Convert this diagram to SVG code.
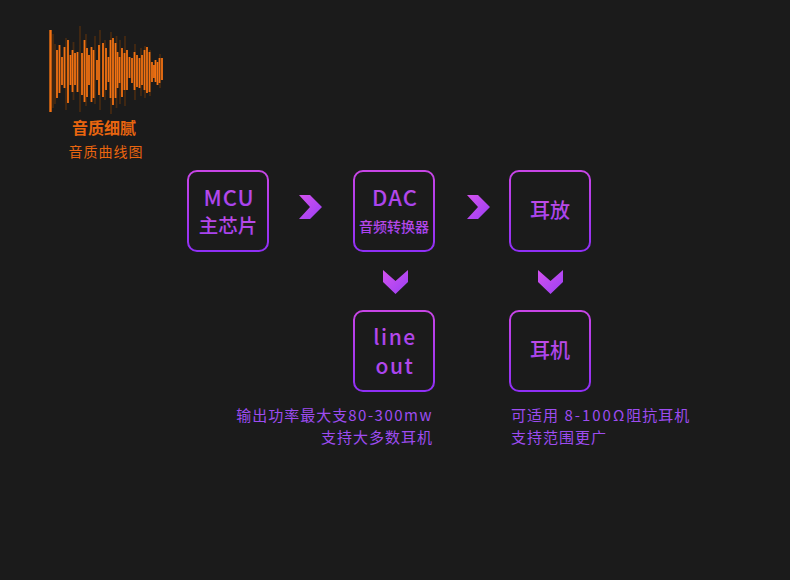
<svg xmlns="http://www.w3.org/2000/svg" width="790" height="580" viewBox="0 0 790 580">
<defs>
<linearGradient id="boxg" x1="0" y1="0" x2="0" y2="1">
<stop offset="0" stop-color="#c845e6"/>
<stop offset="1" stop-color="#8f2ff5"/>
</linearGradient>
<linearGradient id="txtg" x1="0" y1="0" x2="0" y2="1">
<stop offset="0" stop-color="#c54ee6"/>
<stop offset="1" stop-color="#a040f0"/>
</linearGradient>
<linearGradient id="chevg" x1="0" y1="0" x2="1" y2="1">
<stop offset="0" stop-color="#d452ee"/>
<stop offset="1" stop-color="#9a3ff4"/>
</linearGradient>
<path id="chevR" d="M0,0 L11,0 L23,12 L11,24 L0,24 L11,12 Z"/>
<path id="chevD" d="M0,0 L12.5,11 L25,0 L25,12 L12.5,24 L0,12 Z"/>
</defs>
<style>
.box{fill:none;stroke:url(#boxg);stroke-width:2}
.t{font-family:"Noto Sans CJK SC","Noto Sans",sans-serif;fill:url(#txtg);text-anchor:middle;font-weight:500}
.d{font-family:"Noto Sans CJK SC","Noto Sans",sans-serif;fill:#9d4cf0;font-size:15px;letter-spacing:1px}
.o{font-family:"Noto Sans CJK SC","Noto Sans",sans-serif;fill:#e8650f;text-anchor:middle}
.wb{stroke:#f27212;stroke-width:1.8}
.wd{stroke:#452a12;stroke-width:1.8}
</style>
<rect width="790" height="580" fill="#1b1b1b"/>
<g id="waveform">
<g class="wd">
<line x1="53" y1="34" x2="53" y2="108"/><line x1="66" y1="38" x2="66" y2="110"/><line x1="80" y1="26" x2="80" y2="112"/>
<line x1="95" y1="36" x2="95" y2="104"/><line x1="100" y1="30" x2="100" y2="110"/><line x1="111" y1="32" x2="111" y2="114"/>
<line x1="120" y1="40" x2="120" y2="104"/><line x1="125" y1="36" x2="125" y2="106"/><line x1="135" y1="44" x2="135" y2="100"/>
<line x1="145" y1="46" x2="145" y2="98"/><line x1="150" y1="50" x2="150" y2="96"/><line x1="160" y1="54" x2="160" y2="88"/>
<line x1="55" y1="44" x2="55" y2="104"/><line x1="73.5" y1="42" x2="73.5" y2="100"/><line x1="86" y1="34" x2="86" y2="106"/>
<line x1="105" y1="40" x2="105" y2="100"/><line x1="116.5" y1="36" x2="116.5" y2="108"/><line x1="141" y1="48" x2="141" y2="96"/>
</g>
<line x1="50.5" y1="30" x2="50.5" y2="112" stroke="#f27212" stroke-width="2.4"/>
<g class="wb">
<line x1="57" y1="50" x2="57" y2="98"/><line x1="59.5" y1="45" x2="59.5" y2="93"/><line x1="62" y1="57" x2="62" y2="85"/>
<line x1="64.5" y1="47" x2="64.5" y2="88"/><line x1="68" y1="40" x2="68" y2="103"/><line x1="70.5" y1="55" x2="70.5" y2="85"/>
<line x1="72.5" y1="50" x2="72.5" y2="92"/><line x1="75" y1="53" x2="75" y2="85"/><line x1="77.5" y1="52" x2="77.5" y2="92"/>
<line x1="82" y1="53" x2="82" y2="95"/><line x1="84.5" y1="40" x2="84.5" y2="102"/><line x1="87" y1="48" x2="87" y2="97"/>
<line x1="89" y1="55" x2="89" y2="85"/><line x1="91.5" y1="47" x2="91.5" y2="102"/><line x1="93.5" y1="50" x2="93.5" y2="98"/>
<line x1="97" y1="60" x2="97" y2="80"/><line x1="99" y1="45" x2="99" y2="95"/><line x1="103" y1="43" x2="103" y2="97"/>
<line x1="106" y1="48" x2="106" y2="90"/><line x1="108.5" y1="57" x2="108.5" y2="82"/><line x1="110.5" y1="40" x2="110.5" y2="98"/>
<line x1="113" y1="38" x2="113" y2="105"/><line x1="115.5" y1="43" x2="115.5" y2="98"/><line x1="117.5" y1="52" x2="117.5" y2="88"/>
<line x1="119.5" y1="57" x2="119.5" y2="83"/><line x1="122" y1="48" x2="122" y2="97"/><line x1="124.5" y1="53" x2="124.5" y2="90"/>
<line x1="127" y1="50" x2="127" y2="90"/><line x1="129.5" y1="57" x2="129.5" y2="78"/><line x1="132" y1="58" x2="132" y2="83"/>
<line x1="134.5" y1="52" x2="134.5" y2="90"/><line x1="137" y1="55" x2="137" y2="87"/><line x1="139.5" y1="58" x2="139.5" y2="88"/>
<line x1="142" y1="55" x2="142" y2="85"/><line x1="144.5" y1="50" x2="144.5" y2="90"/><line x1="147" y1="47" x2="147" y2="93"/>
<line x1="149.5" y1="52" x2="149.5" y2="92"/><line x1="152" y1="62" x2="152" y2="82"/><line x1="154" y1="65" x2="154" y2="78"/>
<line x1="155.5" y1="60" x2="155.5" y2="82"/><line x1="157.5" y1="62" x2="157.5" y2="85"/><line x1="159.5" y1="58" x2="159.5" y2="83"/>
<line x1="162" y1="58" x2="162" y2="80"/>
</g>
</g>
<g id="waveform-title">
<text class="o" x="104" y="134" font-size="16" font-weight="bold">音质细腻</text>
<text class="o" x="106" y="157" font-size="14" letter-spacing="1">音质曲线图</text>
</g>
<g id="connectors">
<use href="#chevR" x="299" y="195" fill="url(#chevg)"/>
<use href="#chevR" x="467" y="195" fill="url(#chevg)"/>
<use href="#chevD" x="383" y="270" fill="url(#chevg)"/>
<use href="#chevD" x="538" y="270" fill="url(#chevg)"/>
</g>
<g id="mcu">
<rect class="box" x="188" y="171" width="80" height="80" rx="9"/>
<text class="t" x="229" y="206" font-size="22" letter-spacing="1">MCU</text>
<text class="t" x="228" y="233" font-size="19.5">主芯片</text>
</g>
<g id="dac">
<rect class="box" x="354" y="171" width="80" height="80" rx="9"/>
<text class="t" x="395" y="206" font-size="22" letter-spacing="1">DAC</text>
<text class="t" x="394" y="232" font-size="14">音频转换器</text>
</g>
<g id="amp">
<rect class="box" x="510" y="171" width="80" height="80" rx="9"/>
<text class="t" x="550" y="218" font-size="20">耳放</text>
</g>
<g id="lineout">
<rect class="box" x="354" y="311" width="80" height="80" rx="9"/>
<text class="t" x="395" y="345" font-size="21" letter-spacing="1.5">line</text>
<text class="t" x="395" y="374" font-size="21" letter-spacing="1.5">out</text>
</g>
<g id="headphone">
<rect class="box" x="510" y="311" width="80" height="80" rx="9"/>
<text class="t" x="550" y="358" font-size="20">耳机</text>
</g>
<g id="notes">
<text class="d" x="433" y="421" text-anchor="end">输出功率最大支<tspan letter-spacing="1.5">80-300mw</tspan></text>
<text class="d" x="433" y="443" text-anchor="end">支持大多数耳机</text>
<text class="d" x="511" y="421">可适用<tspan letter-spacing="2"> 8-100Ω</tspan>阻抗耳机</text>
<text class="d" x="511" y="443">支持范围更广</text>
</g>
</svg>
